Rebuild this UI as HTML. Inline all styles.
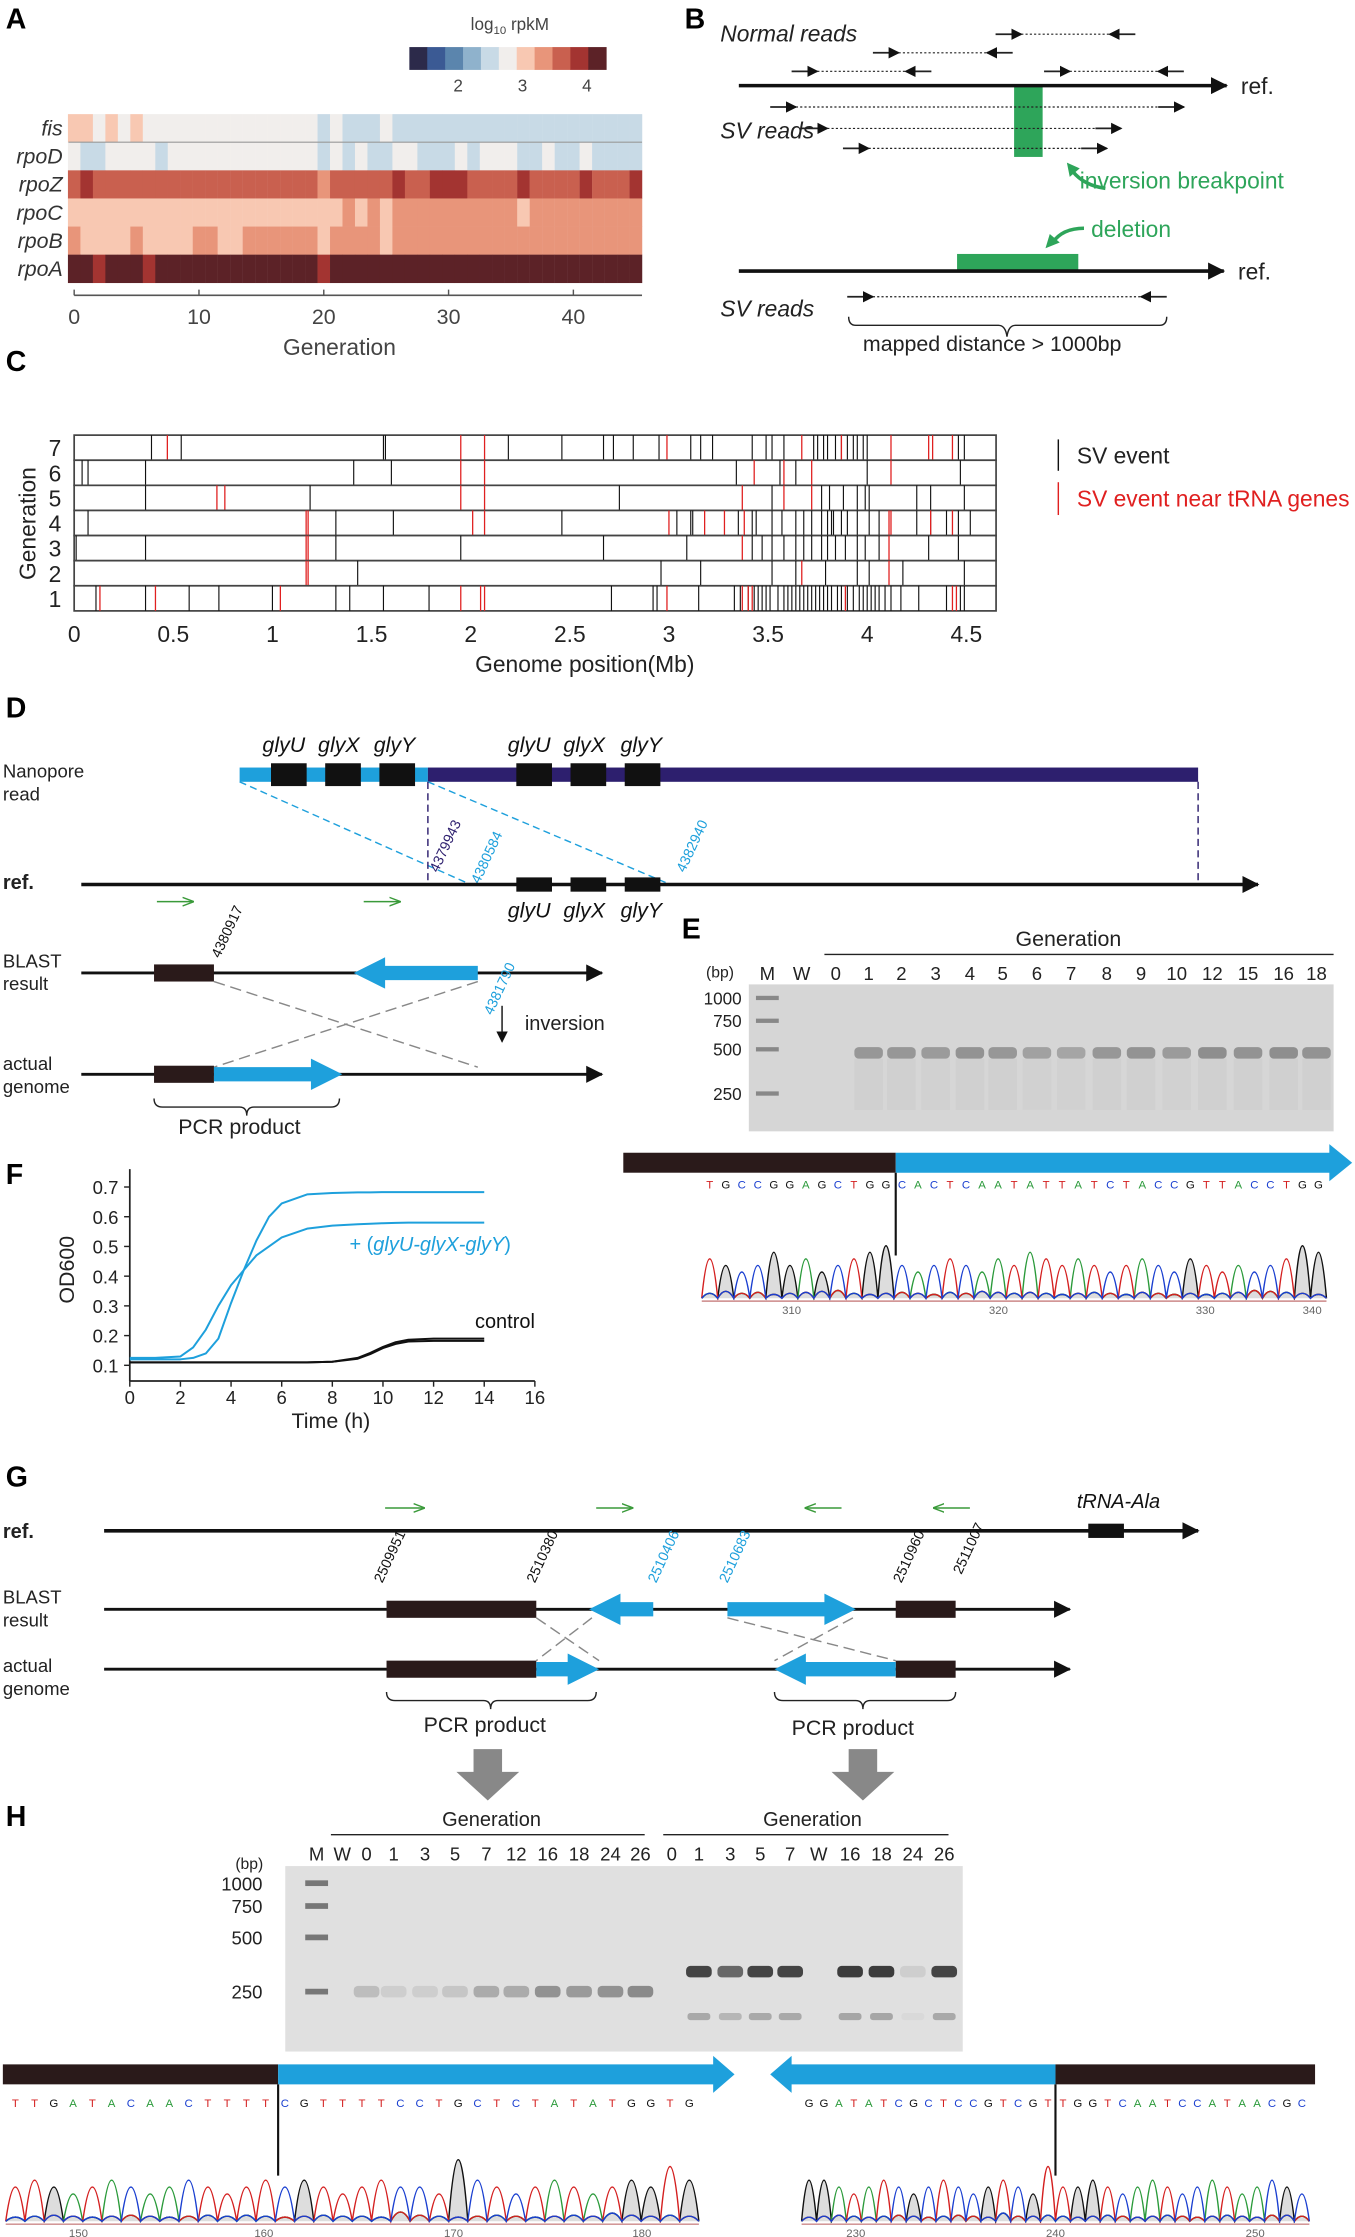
<!DOCTYPE html>
<html><head><meta charset="utf-8">
<style>
html,body{margin:0;padding:0;background:#fff;}
svg{display:block;font-family:"Liberation Sans",Arial,sans-serif;}
.pl{font-weight:bold;font-size:20px;}
.it{font-style:italic;}
</style></head>
<body>
<svg id="fig" width="1355" height="2237" viewBox="0 0 950 1568" preserveAspectRatio="none" xmlns="http://www.w3.org/2000/svg">
<defs>
<marker id="ah" markerWidth="8" markerHeight="8" refX="7" refY="4" orient="auto" markerUnits="userSpaceOnUse"><path d="M0,0 L8,4 L0,8 z" fill="#111"/></marker>
<marker id="ahL" markerWidth="12" markerHeight="12" refX="11" refY="6" orient="auto" markerUnits="userSpaceOnUse"><path d="M0,0 L12,6 L0,12 z" fill="#111"/></marker>
<marker id="ahG" markerWidth="8" markerHeight="8" refX="7" refY="4" orient="auto" markerUnits="userSpaceOnUse"><path d="M0,1 L8,4 L0,7" fill="none" stroke="#3a9a3a" stroke-width="1"/></marker>
</defs>

<g>
<text class="pl" x="4" y="20">A</text><text class="pl" x="480" y="20">B</text>
<text class="pl" x="4" y="260">C</text><text class="pl" x="4" y="503">D</text>
<text class="pl" x="478" y="658">E</text><text class="pl" x="4" y="830">F</text>
<text class="pl" x="4" y="1042">G</text><text class="pl" x="4" y="1280">H</text>
</g>

<g id="panelA">
<text x="330" y="21" font-size="12" fill="#444">log<tspan font-size="8" dy="3">10</tspan><tspan dy="-3"> rpkM</tspan></text>
<g id="cbar"></g>
<g id="heat"></g>
<g id="heatAxis"></g>
<text x="238" y="249" font-size="16" fill="#444" text-anchor="middle">Generation</text>
</g>

<g id="panelB" font-size="16">
<text x="505" y="29" class="it" fill="#222">Normal reads</text>
<text x="505" y="97" class="it" fill="#222">SV reads</text>
<rect x="711" y="60" width="20" height="50" fill="#2ea55a"/>
<line x1="518" y1="60" x2="860" y2="60" stroke="#111" stroke-width="2.5" marker-end="url(#ahL)"/>
<text x="870" y="66" fill="#222">ref.</text>
<g id="readsB" stroke="#222" stroke-width="1.2"></g>
<path d="M775,132 Q760,130 752,120" stroke="#2ea55a" stroke-width="2.5" fill="none"/>
<path d="M748,114 L757,118 L750,124 z" fill="#2ea55a"/>
<text x="757" y="132" fill="#2ea55a">inversion breakpoint</text>
<text x="765" y="166" fill="#2ea55a">deletion</text>
<path d="M760,160 Q745,160 738,170" stroke="#2ea55a" stroke-width="2.5" fill="none"/>
<path d="M733,174 L736,164 L743,170 z" fill="#2ea55a"/>
<rect x="671" y="178" width="85" height="12" fill="#2ea55a"/>
<line x1="518" y1="190" x2="858" y2="190" stroke="#111" stroke-width="2.5" marker-end="url(#ahL)"/>
<text x="868" y="196" fill="#222">ref.</text>
<text x="505" y="222" class="it" fill="#222">SV reads</text>
<path d="M595,222 Q595,228 600,228 L700,228 Q705,228 706,236 Q707,228 712,228 L813,228 Q818,228 818,222" fill="none" stroke="#222" stroke-width="1"/>
<text x="605" y="246" fill="#222" font-size="15">mapped distance &gt; 1000bp</text>
</g>

<g id="panelC">
<g id="svRows"></g>
<g id="svAxis"></g>
<text x="410" y="471" font-size="16" text-anchor="middle" fill="#222">Genome position(Mb)</text>
<text transform="translate(25,367) rotate(-90)" font-size="16" text-anchor="middle" fill="#222">Generation</text>
<g>
<line x1="742" y1="308" x2="742" y2="330" stroke="#111" stroke-width="1"/>
<text x="755" y="325" font-size="16" fill="#222">SV event</text>
<line x1="742" y1="338" x2="742" y2="361" stroke="#e02020" stroke-width="1"/>
<text x="755" y="355" font-size="16" fill="#e02020">SV event near tRNA genes</text>
</g>
</g>

<g id="panelD" font-size="14">
<text x="2" y="545" fill="#222" font-size="13">Nanopore</text>
<text x="2" y="561" fill="#222" font-size="13">read</text>
<rect x="168" y="538" width="132" height="10" fill="#1ea0dc"/>
<rect x="300" y="538" width="540" height="10" fill="#2d1f6e"/>
<g fill="#111">
<rect x="190" y="535" width="25" height="16"/><rect x="228" y="535" width="25" height="16"/><rect x="266" y="535" width="25" height="16"/>
<rect x="362" y="535" width="25" height="16"/><rect x="400" y="535" width="25" height="16"/><rect x="438" y="535" width="25" height="16"/>
</g>
<g class="it" font-size="15" fill="#111">
<text x="184" y="527">glyU</text><text x="223" y="527">glyX</text><text x="262" y="527">glyY</text>
<text x="356" y="527">glyU</text><text x="395" y="527">glyX</text><text x="435" y="527">glyY</text>
<text x="356" y="643">glyU</text><text x="395" y="643">glyX</text><text x="435" y="643">glyY</text>
</g>
<line x1="168" y1="548" x2="330" y2="620" stroke="#1ea0dc" stroke-dasharray="5,3"/>
<line x1="300" y1="548" x2="470" y2="620" stroke="#1ea0dc" stroke-dasharray="5,3"/>
<line x1="300" y1="548" x2="300" y2="620" stroke="#2d1f6e" stroke-dasharray="5,3"/>
<line x1="840" y1="548" x2="840" y2="620" stroke="#2d1f6e" stroke-dasharray="5,3"/>
<text transform="translate(307,612) rotate(-65)" font-size="10" fill="#2d1f6e">4379943</text>
<text transform="translate(336,620) rotate(-65)" font-size="10" fill="#1ea0dc">4380584</text>
<text transform="translate(480,612) rotate(-65)" font-size="10" fill="#1ea0dc">4382940</text>
<text x="2" y="623" font-weight="bold" fill="#222">ref.</text>
<line x1="57" y1="620" x2="882" y2="620" stroke="#111" stroke-width="2.5" marker-end="url(#ahL)"/>
<g fill="#111"><rect x="362" y="615" width="25" height="10"/><rect x="400" y="615" width="25" height="10"/><rect x="438" y="615" width="25" height="10"/></g>
<line x1="110" y1="632" x2="135" y2="632" stroke="#3a9a3a" marker-end="url(#ahG)"/>
<line x1="255" y1="632" x2="280" y2="632" stroke="#3a9a3a" marker-end="url(#ahG)"/>
<text x="2" y="678" font-size="13" fill="#222">BLAST</text><text x="2" y="694" font-size="13" fill="#222">result</text>
<line x1="57" y1="682" x2="422" y2="682" stroke="#111" stroke-width="2" marker-end="url(#ahL)"/>
<rect x="108" y="676" width="42" height="12" fill="#2a1a1a"/>
<path d="M335,677 L270,677 L270,671 L248,682 L270,693 L270,687 L335,687 z" fill="#1ea0dc"/>
<text transform="translate(154,672) rotate(-65)" font-size="10" fill="#111">4380917</text>
<text transform="translate(345,712) rotate(-65)" font-size="10" fill="#1ea0dc">4381790</text>
<line x1="352" y1="705" x2="352" y2="730" stroke="#111" marker-end="url(#ah)"/>
<text x="368" y="722" fill="#222">inversion</text>
<line x1="150" y1="688" x2="335" y2="748" stroke="#888" stroke-dasharray="8,4"/>
<line x1="335" y1="688" x2="150" y2="748" stroke="#888" stroke-dasharray="8,4"/>
<text x="2" y="750" font-size="13" fill="#222">actual</text><text x="2" y="766" font-size="13" fill="#222">genome</text>
<line x1="57" y1="753" x2="422" y2="753" stroke="#111" stroke-width="2" marker-end="url(#ahL)"/>
<rect x="108" y="747" width="42" height="12" fill="#2a1a1a"/>
<path d="M150,748 L218,748 L218,742 L240,753 L218,764 L218,758 L150,758 z" fill="#1ea0dc"/>
<path d="M108,770 Q108,776 114,776 L168,776 Q173,776 173,782 Q173,776 178,776 L232,776 Q238,776 238,770" fill="none" stroke="#222"/>
<text x="125" y="795" font-size="15" fill="#222">PCR product</text>
</g>

<g id="panelE">
<text x="712" y="663" font-size="15" fill="#222">Generation</text>
<line x1="578" y1="669" x2="935" y2="669" stroke="#222"/>
<text x="495" y="685" font-size="11" fill="#222">(bp)</text>
<rect x="525" y="690" width="410" height="103" fill="#d6d6d6"/>
<g id="gelE"></g>
</g>
<g id="chromE"></g>

<g id="panelF">
<g id="fAxis"></g>
<g id="fLines"></g>
<text x="232" y="1001" font-size="15" text-anchor="middle" fill="#222">Time (h)</text>
<text transform="translate(52,890) rotate(-90)" font-size="15" text-anchor="middle" fill="#222">OD600</text>
<text x="245" y="877" font-size="14" fill="#1ea0dc">+ (<tspan class="it">glyU-glyX-glyY</tspan>)</text>
<text x="333" y="931" font-size="14" fill="#111">control</text>
</g>

<g id="panelG">
<text x="2" y="1078" font-weight="bold" font-size="14" fill="#222">ref.</text>
<line x1="73" y1="1073" x2="840" y2="1073" stroke="#111" stroke-width="2.5" marker-end="url(#ahL)"/>
<rect x="763" y="1068" width="25" height="10" fill="#111"/>
<text x="755" y="1057" class="it" font-size="14" fill="#111">tRNA-Ala</text>
<line x1="270" y1="1057" x2="297" y2="1057" stroke="#3a9a3a" marker-end="url(#ahG)"/>
<line x1="418" y1="1057" x2="443" y2="1057" stroke="#3a9a3a" marker-end="url(#ahG)"/>
<line x1="590" y1="1057" x2="565" y2="1057" stroke="#3a9a3a" marker-end="url(#ahG)"/>
<line x1="680" y1="1057" x2="655" y2="1057" stroke="#3a9a3a" marker-end="url(#ahG)"/>
<text x="2" y="1124" font-size="13" fill="#222">BLAST</text><text x="2" y="1140" font-size="13" fill="#222">result</text>
<line x1="73" y1="1128" x2="750" y2="1128" stroke="#111" stroke-width="2" marker-end="url(#ahL)"/>
<rect x="271" y="1122" width="105" height="12" fill="#2a1a1a"/>
<rect x="628" y="1122" width="42" height="12" fill="#2a1a1a"/>
<path d="M458,1123 L435,1123 L435,1117 L413,1128 L435,1139 L435,1133 L458,1133 z" fill="#1ea0dc"/>
<path d="M510,1123 L578,1123 L578,1117 L600,1128 L578,1139 L578,1133 L510,1133 z" fill="#1ea0dc"/>
<g font-size="10">
<text transform="translate(268,1110) rotate(-65)" fill="#111">2509951</text>
<text transform="translate(375,1110) rotate(-65)" fill="#111">2510380</text>
<text transform="translate(460,1110) rotate(-65)" fill="#1ea0dc">2510406</text>
<text transform="translate(510,1110) rotate(-65)" fill="#1ea0dc">2510683</text>
<text transform="translate(632,1110) rotate(-65)" fill="#111">2510960</text>
<text transform="translate(674,1104) rotate(-65)" fill="#111">2511007</text>
</g>
<line x1="376" y1="1134" x2="420" y2="1164" stroke="#888" stroke-dasharray="8,4"/>
<line x1="415" y1="1134" x2="376" y2="1164" stroke="#888" stroke-dasharray="8,4"/>
<line x1="510" y1="1134" x2="628" y2="1164" stroke="#888" stroke-dasharray="8,4"/>
<line x1="598" y1="1134" x2="543" y2="1164" stroke="#888" stroke-dasharray="8,4"/>
<text x="2" y="1172" font-size="13" fill="#222">actual</text><text x="2" y="1188" font-size="13" fill="#222">genome</text>
<line x1="73" y1="1170" x2="750" y2="1170" stroke="#111" stroke-width="2" marker-end="url(#ahL)"/>
<rect x="271" y="1164" width="105" height="12" fill="#2a1a1a"/>
<rect x="628" y="1164" width="42" height="12" fill="#2a1a1a"/>
<path d="M376,1165 L398,1165 L398,1159 L420,1170 L398,1181 L398,1175 L376,1175 z" fill="#1ea0dc"/>
<path d="M628,1165 L565,1165 L565,1159 L543,1170 L565,1181 L565,1175 L628,1175 z" fill="#1ea0dc"/>
<path d="M271,1186 Q271,1192 277,1192 L339,1192 Q344,1192 344,1198 Q344,1192 349,1192 L412,1192 Q418,1192 418,1186" fill="none" stroke="#222"/>
<path d="M543,1186 Q543,1192 549,1192 L600,1192 Q605,1192 605,1198 Q605,1192 610,1192 L664,1192 Q670,1192 670,1186" fill="none" stroke="#222"/>
<text x="297" y="1214" font-size="15" fill="#222">PCR product</text>
<text x="555" y="1216" font-size="15" fill="#222">PCR product</text>
<path d="M332,1226 L352,1226 L352,1242 L364,1242 L342,1262 L320,1242 L332,1242 z" fill="#888"/>
<path d="M595,1226 L615,1226 L615,1242 L627,1242 L605,1262 L583,1242 L595,1242 z" fill="#888"/>
</g>

<g id="panelH">
<text x="310" y="1280" font-size="14" fill="#222">Generation</text>
<text x="535" y="1280" font-size="14" fill="#222">Generation</text>
<line x1="232" y1="1286" x2="452" y2="1286" stroke="#222"/>
<line x1="465" y1="1286" x2="665" y2="1286" stroke="#222"/>
<text x="165" y="1310" font-size="11" fill="#222">(bp)</text>
<rect x="200" y="1308" width="475" height="130" fill="#e0e0e0"/>
<g id="gelH"></g>
</g>
<g id="chromH1"></g>
<g id="chromH2"></g>
</svg>

<script>
const heatRows = ["fis","rpoD","rpoZ","rpoC","rpoB","rpoA"];
const heatGens = [0,1,2,3,4,5,6,7,8,9,10,11,12,13,14,15,16,17,18,19,20,21,22,23,24,25,26,27,28,29,30,31,32,33,34,35,36,37,38,39,40,41,42,43,44,45];
const fisVals  = [3.05,3.05,2.8,3.05,2.8,3.05,2.8,2.8,2.8,2.8,2.8,2.8,2.8,2.8,2.8,2.8,2.8,2.8,2.8,2.8,2.5,2.8,2.5,2.5,2.5,2.8,2.5,2.5,2.5,2.5,2.5,2.5,2.5,2.5,2.5,2.5,2.5,2.5,2.5,2.5,2.5,2.5,2.5,2.5,2.5,2.5];
const rpoDVals = [2.8,2.5,2.5,2.8,2.8,2.8,2.8,2.5,2.8,2.8,2.8,2.8,2.8,2.8,2.8,2.8,2.8,2.8,2.8,2.8,2.5,2.8,2.5,2.8,2.5,2.5,2.8,2.8,2.5,2.5,2.5,2.8,2.5,2.8,2.8,2.8,2.5,2.5,2.8,2.5,2.5,2.8,2.5,2.5,2.5,2.5];
const rpoZVals = [3.6,3.85,3.6,3.6,3.6,3.6,3.6,3.6,3.6,3.6,3.6,3.6,3.6,3.6,3.6,3.6,3.6,3.6,3.6,3.6,3.3,3.6,3.6,3.6,3.6,3.6,3.85,3.6,3.6,3.85,3.85,3.85,3.6,3.6,3.6,3.6,3.85,3.6,3.6,3.6,3.6,3.85,3.6,3.6,3.6,3.85];
const rpoCVals = [3.05,3.05,3.05,3.05,3.05,3.05,3.05,3.05,3.05,3.05,3.05,3.05,3.05,3.05,3.05,3.05,3.05,3.05,3.05,3.05,3.05,3.05,3.3,3.05,3.3,3.05,3.3,3.3,3.3,3.3,3.3,3.3,3.3,3.3,3.3,3.3,3.05,3.3,3.3,3.3,3.3,3.3,3.3,3.3,3.3,3.3];
const rpoBVals = [3.3,3.05,3.05,3.05,3.05,3.3,3.05,3.05,3.05,3.05,3.3,3.3,3.05,3.05,3.3,3.3,3.3,3.3,3.3,3.3,3.05,3.3,3.3,3.3,3.3,3.05,3.3,3.3,3.3,3.3,3.3,3.3,3.3,3.3,3.3,3.3,3.3,3.3,3.3,3.3,3.3,3.3,3.3,3.3,3.3,3.3];
const rpoAVals = [4.1,4.1,3.85,4.1,4.1,4.1,3.85,4.1,4.1,4.1,4.1,4.1,4.1,4.1,4.1,4.1,4.1,4.1,4.1,4.1,3.85,4.1,4.1,4.1,4.1,4.1,4.1,4.1,4.1,4.1,4.1,4.1,4.1,4.1,4.1,4.1,4.1,4.1,4.1,4.1,4.1,4.1,4.1,4.1,4.1,4.1];
const heatTicks = [0,10,20,30,40];
const cbarTicks = [2,3,4];

const svGens = [7,6,5,4,3,2,1];
const svBlack7 = [0.39,0.54,1.56,1.57,2.19,2.46,2.67,2.72,2.82,2.95,3.11,3.16,3.22,3.42,3.49,3.52,3.58,3.73,3.75,3.78,3.8,3.84,3.87,3.9,3.93,3.95,3.98,4.0,4.46,4.49];
const svRed7 = [0.47,1.95,2.07,2.99,3.67,3.87,4.12,4.31,4.33,4.43];
const svBlack6 = [0.04,0.07,0.36,1.41,1.6,3.34,3.56,3.64,4.0,4.47];
const svRed6 = [1.95,2.07,3.43,3.58,3.72,4.12];
const svBlack5 = [0.36,1.19,2.75,3.52,3.77,3.81,3.88,3.95,3.99,4.01,4.25,4.32,4.49];
const svRed5 = [0.72,0.76,1.95,2.07,3.37,3.58,3.72];
const svBlack4 = [0.07,1.32,1.61,2.46,3.04,3.11,3.12,3.35,3.42,3.44,3.52,3.57,3.64,3.68,3.72,3.77,3.8,3.82,3.83,3.87,3.9,3.95,4.01,4.06,4.25,4.32,4.4,4.46,4.52];
const svRed4 = [1.17,1.18,2.01,2.07,3.0,3.18,3.28,3.38,4.11,4.12,4.32,4.43];
const svBlack3 = [0.01,0.36,1.32,1.95,2.67,3.09,3.42,3.47,3.52,3.58,3.64,3.68,3.72,3.77,3.8,3.84,3.89,3.95,3.99,4.06,4.31,4.46];
const svRed3 = [1.17,1.18,3.37,4.11];
const svBlack2 = [1.43,2.96,3.16,3.52,3.64,3.79,3.95,4.01,4.18,4.49];
const svRed2 = [1.17,1.18,3.67,4.11];
const svBlack1 = [0.11,0.36,0.58,0.73,1.0,1.32,1.39,1.56,1.79,2.71,2.92,2.94,3.15,3.33,3.36,3.4,3.43,3.45,3.47,3.49,3.51,3.55,3.58,3.6,3.62,3.64,3.66,3.68,3.7,3.72,3.74,3.76,3.78,3.8,3.82,3.85,3.87,3.9,3.93,3.96,3.98,4.0,4.02,4.04,4.06,4.09,4.12,4.17,4.26,4.4,4.47,4.49];
const svRed1 = [0.13,0.41,1.04,1.95,2.05,2.07,2.99,3.37,3.4,3.42,3.89,4.43,4.45];
const svTicks = [0,0.5,1,1.5,2,2.5,3,3.5,4,4.5];

const fTime = [0,1,2,2.5,3,3.5,4,4.5,5,5.5,6,7,8,9,9.5,10,10.5,11,12,13,14];
const glyHigh = [0.12,0.12,0.12,0.125,0.14,0.19,0.31,0.42,0.52,0.6,0.645,0.675,0.68,0.682,0.682,0.683,0.683,0.683,0.683,0.683,0.683];
const glyLow  = [0.125,0.125,0.13,0.16,0.22,0.3,0.37,0.42,0.47,0.5,0.53,0.56,0.57,0.575,0.576,0.578,0.579,0.58,0.58,0.58,0.58];
const ctrlA   = [0.11,0.11,0.11,0.11,0.11,0.11,0.11,0.11,0.11,0.11,0.11,0.11,0.112,0.125,0.142,0.162,0.178,0.186,0.19,0.19,0.19];
const ctrlB   = [0.11,0.11,0.11,0.11,0.11,0.11,0.11,0.11,0.11,0.11,0.11,0.11,0.112,0.122,0.138,0.158,0.172,0.18,0.182,0.182,0.182];
const fXTicks = [0,2,4,6,8,10,12,14,16];
const fYTicks = [0.1,0.2,0.3,0.4,0.5,0.6,0.7];

const gelELanes = ["M","W","0","1","2","3","4","5","6","7","8","9","10","12","15","16","18"];
const gelEBand  = [0,0,0,0.7,0.7,0.65,0.75,0.7,0.6,0.55,0.7,0.75,0.65,0.8,0.75,0.8,0.75];
const gelEMarkers = ["1000","750","500","250"];
const gelHLanes = ["M","W","0","1","3","5","7","12","16","18","24","26","0","1","3","5","7","W","16","18","24","26"];
const gelHBand  = [0,0,0.2,0.1,0.1,0.15,0.3,0.3,0.45,0.4,0.45,0.5,0,0.9,0.7,0.9,0.9,0,0.95,0.95,0.1,0.9];
const gelHMarkers = ["1000","750","500","250"];

const seqE = "TGCCGGAGCTGGCACTCAATATTATCTACCGTTACCTGG";
const peaksE = [6,5,4,5,7,5,6,4,5,6,7,8,5,4,5,6,5,4,6,5,7,6,5,6,5,4,5,6,5,4,6,5,4,5,4,5,6,8,7];
const seqH1 = "TTGATACAACTTTTCGTTTTCCTGCTCTATATGGTG";
const peaksH1 = [5,6,5,4,5,6,5,4,5,6,5,4,5,6,5,6,5,4,5,6,5,5,4,9,6,5,4,5,6,5,4,5,6,5,8,6];
const seqH2 = "GGATATCGCTCCGTCGTTGGTCAATCCATAACGC";
const peaksH2 = [6,6,5,4,5,6,5,4,5,6,5,4,5,6,5,4,8,5,5,6,5,4,5,6,5,4,5,6,5,4,5,6,5,4];

const NS = "http://www.w3.org/2000/svg";
function mk(tag, attrs, parent){ const e=document.createElementNS(NS,tag); for(const k in attrs) e.setAttribute(k,attrs[k]); parent.appendChild(e); return e; }
const cmap = ["#2c2a4a","#3b5a94","#5b85ad","#8fb2cc","#c8dae6","#f1eeec","#f8c8b2","#e8957a","#c9604f","#a33431","#5c2227"];
const cMin=1.243, cMax=4.30;
function colorOf(v){ let i=Math.floor((v-cMin)/((cMax-cMin)/11)); i=Math.max(0,Math.min(10,i)); return cmap[i]; }

(function(){
  const hx = g => 52 + g*8.75;
  const cx = v => 287 + (v-cMin)/(cMax-cMin)*138;
  const cb = document.getElementById('cbar');
  for(let i=0;i<11;i++){
    const r = mk('rect',{x:287+i*138/11,y:33,width:138/11+0.3,height:16,fill:cmap[i]},cb);
    
    
  }
  cbarTicks.forEach(t=>{
    const tx = mk('text',{x:cx(t),y:64,'font-size':12,'text-anchor':'middle',fill:'#444'},cb); tx.textContent=t;
    
    
  });
  const rowsV = [fisVals,rpoDVals,rpoZVals,rpoCVals,rpoBVals,rpoAVals];
  const heat = document.getElementById('heat');
  const rowH = 19.7, top=80;
  rowsV.forEach((vals,ri)=>{
    heatGens.forEach((g,gi)=>{
      const r = mk('rect',{x:hx(g-0.5),y:top+ri*rowH,width:8.9,height:rowH+0.2,fill:colorOf(vals[gi])},heat);
      
      
    });
    const lb = mk('text',{x:44,y:top+ri*rowH+15,'font-size':15,'text-anchor':'end','font-style':'italic',fill:'#333'},heat);
    lb.textContent = heatRows[ri];
    
    
  });
  mk('line',{x1:48,y1:top+rowH,x2:hx(45.5),y2:top+rowH,stroke:'#999','stroke-width':0.8},heat);
  const ax = document.getElementById('heatAxis');
  mk('line',{x1:hx(0),y1:207,x2:hx(45.5),y2:207,stroke:'#555','stroke-width':1.2},ax);
  heatTicks.forEach(t=>{
    mk('line',{x1:hx(t),y1:207,x2:hx(t),y2:203,stroke:'#555'},ax);
    const tx=mk('text',{x:hx(t),y:227,'font-size':15,'text-anchor':'middle',fill:'#444'},ax); tx.textContent=t;
    
    
  });
})();

(function(){
  const g=document.getElementById('readsB');
  function pair(x1,x2,y,inward){
    const a=18;
    if(inward){
      mk('line',{x1:x1,y1:y,x2:x1+a,y2:y,'marker-end':'url(#ah)'},g);
      mk('line',{x1:x2,y1:y,x2:x2-a,y2:y,'marker-end':'url(#ah)'},g);
    } else {
      mk('line',{x1:x1,y1:y,x2:x1+a,y2:y,'marker-end':'url(#ah)'},g);
      mk('line',{x1:x2-a,y1:y,x2:x2,y2:y,'marker-end':'url(#ah)'},g);
    }
    mk('line',{x1:x1+a,y1:y,x2:x2-a,y2:y,'stroke-dasharray':'1.5,1.5','stroke-width':0.8},g);
  }
  pair(698,796,24,true); pair(612,710,37,true); pair(555,653,50,true); pair(732,830,50,true);
  pair(540,830,75,false); pair(562,786,90,false); pair(591,776,104,false);
  pair(594,818,208,true);
})();

(function(){
  const sx = mb => 52 + mb*139;
  const top=305, rh=17.6, right=sx(4.65);
  const g=document.getElementById('svRows');
  const blacks=[svBlack7,svBlack6,svBlack5,svBlack4,svBlack3,svBlack2,svBlack1];
  const reds=[svRed7,svRed6,svRed5,svRed4,svRed3,svRed2,svRed1];
  svGens.forEach((gen,i)=>{
    const y=top+i*rh;
    const box=mk('rect',{x:52,y:y,width:right-52,height:rh,fill:'#fff',stroke:'#444','stroke-width':1.2},g);
    
    
    blacks[i].forEach(v=>{ const l=mk('line',{x1:sx(v),y1:y,x2:sx(v),y2:y+rh,stroke:'#111','stroke-width':0.8},g);
        });
    reds[i].forEach(v=>{ const l=mk('line',{x1:sx(v),y1:y,x2:sx(v),y2:y+rh,stroke:'#e02020','stroke-width':0.9},g);
        });
    const t=mk('text',{x:43,y:y+rh/2+6,'font-size':16,'text-anchor':'end',fill:'#222'},g); t.textContent=gen;
     
  });
  const ax=document.getElementById('svAxis');
  svTicks.forEach(t=>{
    const tx=mk('text',{x:sx(t),y:450,'font-size':16,'text-anchor':'middle',fill:'#222'},ax); tx.textContent=t;
     
  });
})();

(function(){
  const fx = t => 91 + t*17.75;
  const fy = v => 957 - (v-0.1)*208.3;
  const ax=document.getElementById('fAxis');
  mk('line',{x1:91,y1:fy(0.76),x2:91,y2:968,stroke:'#222','stroke-width':1.2},ax);
  mk('line',{x1:91,y1:968,x2:fx(16),y2:968,stroke:'#222','stroke-width':1.2},ax);
  fYTicks.forEach(v=>{
    mk('line',{x1:87,y1:fy(v),x2:91,y2:fy(v),stroke:'#222'},ax);
    const t=mk('text',{x:83,y:fy(v)+5,'font-size':13,'text-anchor':'end',fill:'#222'},ax); t.textContent=v.toFixed(1);
     
  });
  fXTicks.forEach(v=>{
    mk('line',{x1:fx(v),y1:968,x2:fx(v),y2:972,stroke:'#222'},ax);
    const t=mk('text',{x:fx(v),y:984,'font-size':13,'text-anchor':'middle',fill:'#222'},ax); t.textContent=v;
     
  });
  const ln=document.getElementById('fLines');
  [[glyHigh,'#1ea0dc','gly-high-curve'],[glyLow,'#1ea0dc','gly-low-curve'],[ctrlA,'#111','control-curve-a'],[ctrlB,'#111','control-curve-b']].forEach(([arr,col,nm])=>{
    const d=arr.map((v,i)=>(i?'L':'M')+fx(fTime[i]).toFixed(1)+','+fy(v).toFixed(1)).join(' ');
    const p=mk('path',{d:d,fill:'none',stroke:col,'stroke-width':1.4,'stroke-linejoin':'round'},ln);
     
  });
})();

(function(){
  const gE=document.getElementById('gelE');
  const exs=[538,562,586,609,632,656,680,703,727,751,776,800,825,850,875,900,923];
  gelELanes.forEach((l,i)=>{
    const t=mk('text',{x:exs[i],y:687,'font-size':13,'text-anchor':'middle',fill:'#222'},gE); t.textContent=l;
     
    if(gelEBand[i]>0){
      mk('rect',{x:exs[i]-10,y:742,width:20,height:36,fill:'#bbb','fill-opacity':gelEBand[i]*0.3},gE);
      const b=mk('rect',{x:exs[i]-10,y:734,width:20,height:8,rx:3,fill:'#666','fill-opacity':gelEBand[i]*0.8},gE);
       
    }
  });
  const mY=[700,716,736,767];
  gelEMarkers.forEach((m,i)=>{
    const t=mk('text',{x:520,y:mY[i]+4,'font-size':12,'text-anchor':'end',fill:'#222'},gE); t.textContent=m;
     
    mk('rect',{x:530,y:mY[i]-2,width:16,height:3,fill:'#888'},gE);
  });
  const gH=document.getElementById('gelH');
  const hxs=[222,240,257,276,298,319,341,362,384,406,428,449,471,490,512,533,554,574,596,618,640,662];
  gelHLanes.forEach((l,i)=>{
    const t=mk('text',{x:hxs[i],y:1304,'font-size':13,'text-anchor':'middle',fill:'#222'},gH); t.textContent=l;
     
    const v=gelHBand[i];
    if(v>0){
      const y = i>=12 ? 1382 : 1396;
      const b=mk('rect',{x:hxs[i]-9,y:y-4,width:18,height:8,rx:3,fill:'#333','fill-opacity':v},gH);
       
      if(i>=12) mk('rect',{x:hxs[i]-8,y:1411,width:16,height:5,rx:2,fill:'#666','fill-opacity':v*0.5},gH);
    }
  });
  const hmY=[1320,1336,1358,1396];
  gelHMarkers.forEach((m,i)=>{
    const t=mk('text',{x:184,y:hmY[i]+5,'font-size':13,'text-anchor':'end',fill:'#222'},gH); t.textContent=m;
     
    mk('rect',{x:214,y:hmY[i]-2,width:16,height:4,fill:'#777'},gH);
  });
})();

const baseCol={A:'#2a9a3a',C:'#1a3fd0',G:'#111',T:'#d42020'};
function chrom(id,seq,peaks,x0,x1,seqY,baseY,scale,ticks){
  const g=document.getElementById(id);
  const step=(x1-x0)/seq.length;
  [...seq].forEach((b,i)=>{
    const t=mk('text',{x:x0+step*(i+0.5),y:seqY,'font-size':8,'text-anchor':'middle',fill:baseCol[b]},g); t.textContent=b;
     
  });
  ['G','A','T','C'].forEach(b=>{
    let d='M'+x0+','+baseY;
    [...seq].forEach((s,i)=>{
      const cx=x0+step*(i+0.5);
      const h = s===b ? peaks[i]*scale : peaks[(i+3)%peaks.length]*scale*0.15;
      d+=' L'+(cx-step*0.5).toFixed(1)+','+baseY+' Q'+cx.toFixed(1)+','+(baseY-h*2).toFixed(1)+' '+(cx+step*0.5).toFixed(1)+','+baseY;
    });
    const p=mk('path',{d:d,fill:b==='G'?'#bbb':'none','fill-opacity':0.5,stroke:baseCol[b],'stroke-width':1},g);
    
    
  });
  mk('line',{x1:x0,y1:baseY+2,x2:x1,y2:baseY+2,stroke:'#c88',"stroke-width":1},g);
  ticks.forEach(([lab,x])=>{
    const t=mk('text',{x:x,y:baseY+11,'font-size':8,'text-anchor':'middle',fill:'#666'},g); t.textContent=lab;
  });
}
chrom('chromE',seqE,peaksE,492,930,833,910,4.6,[['310',555],['320',700],['330',845],['340',920]]);
chrom('chromH1',seqH1,peaksH1,4,490,1477,1557,4.8,[['150',55],['160',185],['170',318],['180',450]]);
chrom('chromH2',seqH2,peaksH2,562,918,1477,1557,4.8,[['230',600],['240',740],['250',880]]);
(function(){
  const s=document.getElementById('fig');
  function bar(x,y,w,c){ mk('rect',{x:x,y:y,width:w,height:14,fill:c},s); }
  bar(437,808,191,'#2a1a1a'); mk('path',{d:'M628,808 L932,808 L932,802 L948,815 L932,828 L932,822 L628,822 z',fill:'#1ea0dc'},s);
  mk('line',{x1:628,y1:822,x2:628,y2:880,stroke:'#111','stroke-width':1.5},s);
  bar(2,1447,193,'#2a1a1a'); mk('path',{d:'M195,1447 L500,1447 L500,1441 L515,1454 L500,1467 L500,1461 L195,1461 z',fill:'#1ea0dc'},s);
  mk('line',{x1:195,y1:1461,x2:195,y2:1525,stroke:'#111','stroke-width':1.5},s);
  bar(740,1447,182,'#2a1a1a'); mk('path',{d:'M740,1447 L555,1447 L555,1441 L540,1454 L555,1467 L555,1461 L740,1461 z',fill:'#1ea0dc'},s);
  mk('line',{x1:740,y1:1461,x2:740,y2:1525,stroke:'#111','stroke-width':1.5},s);
})();
</script>
</body></html>
